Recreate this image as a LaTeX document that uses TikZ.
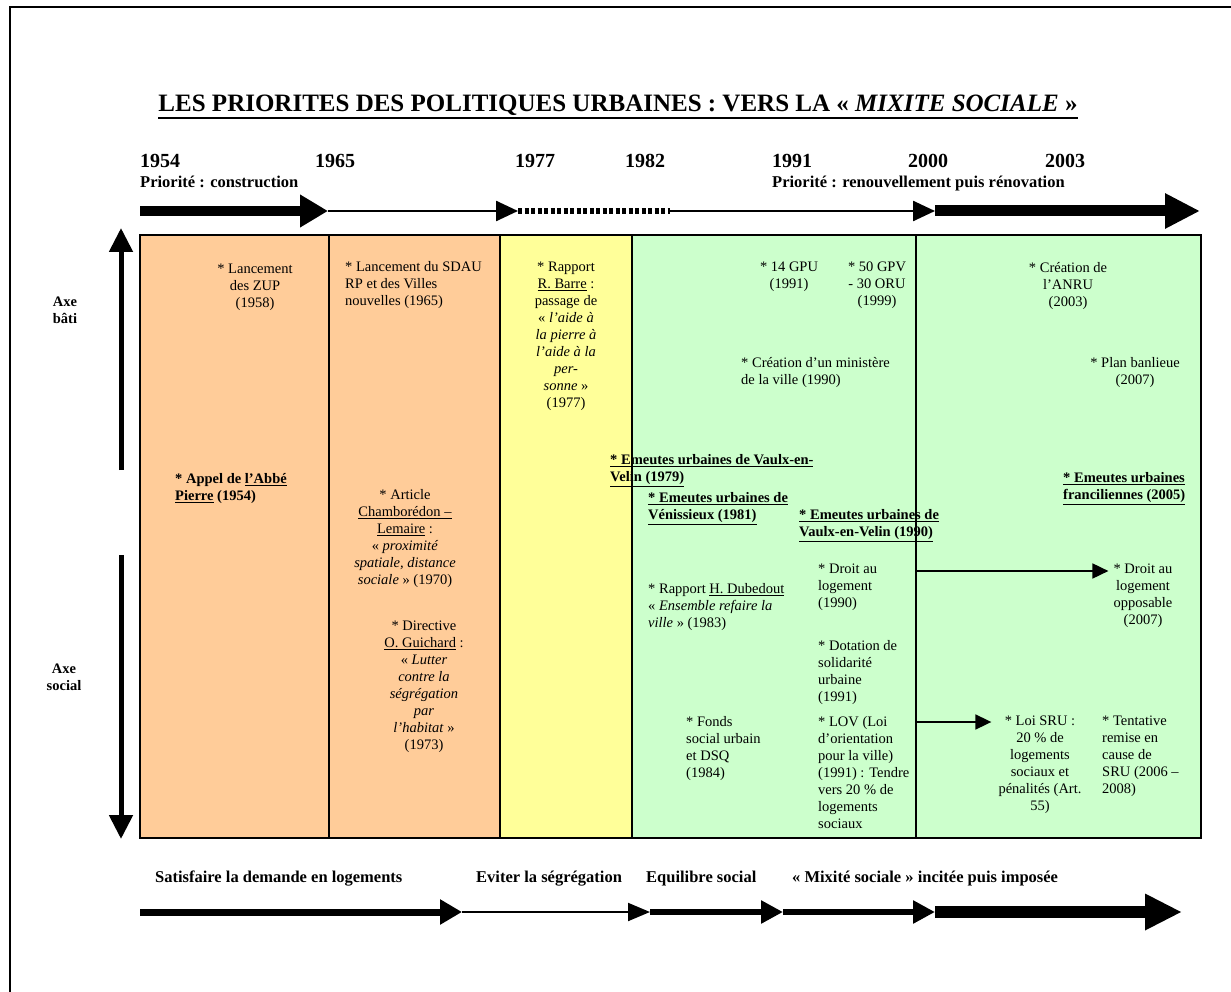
\documentclass[tikz,border=0pt]{standalone}
\usepackage{fontspec}
\setmainfont{Liberation Serif}
\usetikzlibrary{arrows.meta, positioning}

\definecolor{peach}{HTML}{FFCC99}
\definecolor{paleyellow}{HTML}{FFFF99}
\definecolor{palegreen}{HTML}{CCFFCC}

% underline that keeps the baseline
\newcommand\undl[2][0.7pt]{\leavevmode\vtop{\hbox{#2}\kern1.2pt\hrule height #1}}

\tikzset{
  txt/.style={inner sep=0pt, align=center, font=\fontsize{14.5}{17}\selectfont},
  txtl/.style={txt, align=left},
  bold/.style={inner sep=0pt, align=left, font=\bfseries\fontsize{14.5}{17}\selectfont},
  head/.style={inner sep=0pt, anchor=base west, font=\bfseries\fontsize{16.5}{18}\selectfont},
  year/.style={inner sep=0pt, anchor=base west, font=\bfseries\fontsize{20}{22}\selectfont},
  divider/.style={line width=1.5pt},
  fatarr/.style={line width=10pt, -{Triangle[length=28pt,width=31pt]}},
  thinarr/.style={line width=2.5pt, -{Triangle[length=22pt,width=20pt]}},
  midarr/.style={line width=6pt, -{Triangle[length=22pt,width=22pt]}},
  sarr/.style={line width=1.8pt, -{Triangle[length=16pt,width=15pt]}},
  axarr/.style={line width=5pt, -{Triangle[length=24pt,width=23pt]}}
}

\begin{document}
\begin{tikzpicture}[x=1pt,y=-1pt]
\useasboundingbox (0,0) rectangle (1231,992);
\draw[line width=2.5pt] (10,992) -- (10,7) -- (1231,7);

% title
\node[inner sep=0pt, anchor=base, font=\bfseries\fontsize{25}{28}\selectfont] (title) at (618,112)
  {\undl[2pt]{LES PRIORITES DES POLITIQUES URBAINES : VERS LA « \textit{MIXITE SOCIALE} »}};

% years
\node[year] (y1954) at (140,168) {1954};
\node[year] (y1965) at (315,168) {1965};
\node[year] (y1977) at (515,168) {1977};
\node[year] (y1982) at (625,168) {1982};
\node[year] (y1991) at (772,168) {1991};
\node[year] (y2000) at (908,168) {2000};
\node[year] (y2003) at (1045,168) {2003};
\node[head] (prio1) at (140,188) {Priorité : construction};
\node[head] (prio2) at (772,188) {Priorité : renouvellement puis rénovation};

% top timeline
\coordinate (t0) at (140,211);
\coordinate (t1) at (328,211);
\coordinate (t2) at (518,211);
\coordinate (t3) at (670,211);
\coordinate (t4) at (935,211);
\coordinate (t5) at (1200,211);
\draw[fatarr] (t0) -- (t1);
\draw[thinarr] (t1) -- (t2);
\draw[line width=6pt, dash pattern=on 4pt off 2.5pt] (t2) -- (t3);
\draw[thinarr] (t3) -- (t4);
\draw[line width=11pt, -{Triangle[length=35pt,width=33pt]}] (t4) -- (t5);

% columns
\fill[peach] (140,235) rectangle (500,838);
\fill[paleyellow] (500,235) rectangle (632,838);
\fill[palegreen] (632,235) rectangle (1201,838);

% axes
\coordinate (a1) at (121,470);
\coordinate (a2) at (121,228);
\coordinate (a3) at (121,555);
\coordinate (a4) at (121,839);
\draw[axarr] (a1) -- (a2);
\draw[axarr] (a3) -- (a4);
\node[bold, align=center, anchor=north] (bati) at (65,297) {Axe\\bâti};
\node[bold, align=center, anchor=north] (social) at (64,664) {Axe\\social};

% 1954 - 1965
\node[txt, anchor=north] (zup) at (255,264) {* Lancement\\des ZUP\\(1958)};
\node[bold, anchor=north west] (abbe) at (175,473) {* Appel de \undl[1pt]{l’Abbé}\\\undl[1pt]{Pierre} (1954)};

% 1965 - 1977
\node[txtl, anchor=north west] (sdau) at (345,261) {* Lancement du SDAU\\RP et des Villes\\nouvelles (1965)};
\node[txt, anchor=north] (chamb) at (405,489) {* Article\\\undl{Chamborédon –}\\\undl{Lemaire} :\\« \textit{proximité}\\\textit{spatiale, distance}\\\textit{sociale} » (1970)};
\node[txt, anchor=north] (guich) at (424,621) {* Directive\\\undl{O. Guichard} :\\« \textit{Lutter}\\\textit{contre la}\\\textit{ségrégation}\\\textit{par}\\\textit{l’habitat} »\\(1973)};

% 1977 - 1982
\node[txt, anchor=north] (barre) at (566,262) {* Rapport\\\undl{R. Barre} :\\passage de\\« \textit{l’aide à}\\\textit{la pierre à}\\\textit{l’aide à la}\\\textit{per-}\\\textit{sonne} »\\(1977)};

% 1982 - 2000
\node[txt, anchor=north] (gpu) at (789,262) {* 14 GPU\\(1991)};
\node[txt, anchor=north] (gpv) at (877,262) {* 50 GPV\\- 30 ORU\\(1999)};
\node[txtl, anchor=north west] (minis) at (741,357) {* Création d’un ministère\\de la ville (1990)};
\node[bold, anchor=north west] (vaulx79) at (610,454) {\undl[1.4pt]{* Emeutes urbaines de Vaulx-en-}\\\undl[1.4pt]{Velin (1979)}};
\node[bold, anchor=north west] (venis) at (648,492) {\undl[1.4pt]{* Emeutes urbaines de}\\\undl[1.4pt]{Vénissieux (1981)}};
\node[bold, anchor=north west] (vaulx90) at (799,509) {\undl[1.4pt]{* Emeutes urbaines de}\\\undl[1.4pt]{Vaulx-en-Velin (1990)}};
\node[txtl, anchor=north west] (dubed) at (648,583) {* Rapport \undl{H. Dubedout}\\« \textit{Ensemble refaire la}\\\textit{ville} » (1983)};
\node[txtl, anchor=north west] (fsu) at (686,716) {* Fonds\\social urbain\\et DSQ\\(1984)};
\node[txtl, anchor=north west] (dal) at (818,564) {* Droit au\\logement\\(1990)};
\node[txtl, anchor=north west] (dsu) at (818,640) {* Dotation de\\solidarité\\urbaine\\(1991)};
\node[txtl, anchor=north west] (lov) at (818,716) {* LOV (Loi\\d’orientation\\pour la ville)\\(1991) : Tendre\\vers 20 \% de\\logements\\sociaux};

% 2000 - 2003
\node[txt, anchor=north] (anru) at (1068,262) {* Création de\\l’ANRU\\(2003)};
\node[txt, anchor=north] (banl) at (1135,357) {* Plan banlieue\\(2007)};
\node[bold, anchor=north west] (franc) at (1063,472) {\undl[1.4pt]{* Emeutes urbaines}\\\undl[1.4pt]{franciliennes (2005)}};
\node[txt, anchor=north] (dalo) at (1143,564) {* Droit au\\logement\\opposable\\(2007)};
\node[txt, anchor=north] (sru) at (1040,716) {* Loi SRU :\\20 \% de\\logements\\sociaux et\\pénalités (Art.\\55)};
\node[txtl, anchor=north west] (tent) at (1102,716) {* Tentative\\remise en\\cause de\\SRU (2006 –\\2008)};

% frames of the columns
\draw[divider] (140,235) rectangle (1201,838);
\foreach \x in {329,500,632,916}
  \draw[divider] (\x,235) -- (\x,838);

% links to later measures
\coordinate (d1) at (916,571);
\coordinate (s1) at (916,722);
\draw[sarr, shorten >=5pt] (d1) -- (d1 -| dalo.west);
\draw[sarr, shorten >=7pt] (s1) -- (s1 -| sru.west);

% bottom timeline
\node[head] (goal1) at (155,882) {Satisfaire la demande en logements};
\node[head] (goal2) at (476,882) {Eviter la ségrégation};
\node[head] (goal3) at (646,882) {Equilibre social};
\node[head] (goal4) at (792,882) {« Mixité sociale » incitée puis imposée};
\coordinate (b0) at (140,912);
\coordinate (b1) at (462,912);
\coordinate (b2) at (650,912);
\coordinate (b3) at (783,912);
\coordinate (b4) at (935,912);
\coordinate (b5) at (1182,912);
\draw[line width=7pt, -{Triangle[length=22pt,width=24pt]}] (b0) -- (b1);
\draw[line width=2pt, -{Triangle[length=22pt,width=18pt]}] (b1) -- (b2);
\draw[midarr] (b2) -- (b3);
\draw[midarr] (b3) -- (b4);
\draw[line width=12pt, -{Triangle[length=37pt,width=34pt]}] (b4) -- (b5);
\end{tikzpicture}
\end{document}
